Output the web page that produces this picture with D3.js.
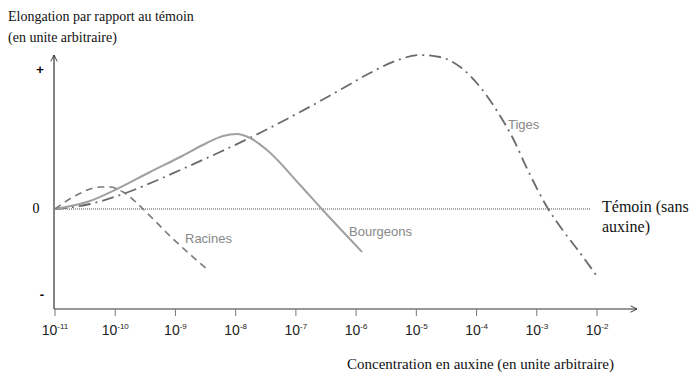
<!DOCTYPE html>
<html>
<head>
<meta charset="utf-8">
<script src="https://cdn.jsdelivr.net/npm/d3@7"></script>
<style>
  body { margin: 0; background: #fff; }
  svg { display: block; }
</style>
</head>
<body>
<svg id="chart"></svg>
<script>
const width = 700;
const height = 378;

// exponents of the concentration axis (10^x)
const tickExponents = [-11, -10, -9, -8, -7, -6, -5, -4, -3, -2];

// curves: [log10 concentration, elongation vs control (arbitrary units)]
const racines = [
    [-11, 0], [-10.64, 14], [-10.25, 22], [-10.09, 22], [-9.87, 17],
    [-9.64, 6], [-9.47, -4], [-9.09, -27], [-8.46, -61]
];
const bourgeons = [
    [-11, 0], [-10.42, 8], [-9.97, 20], [-9.42, 37], [-8.92, 52],
    [-8.48, 66], [-8.21, 73], [-7.98, 75], [-7.76, 71], [-7.48, 59],
    [-6.93, 24], [-6.57, 0], [-5.90, -43]
];
const tiges = [
    [-11, 0], [-10.42, 5], [-9.92, 14], [-9.37, 27], [-8.92, 39],
    [-8.26, 57], [-7.60, 76], [-6.93, 97], [-6.27, 119], [-5.77, 136],
    [-5.35, 148], [-4.94, 154], [-4.61, 152], [-4.27, 142], [-3.94, 122],
    [-3.66, 98], [-3.39, 70], [-3.15, 39], [-2.83, 2], [-2.56, -22],
    [-2.28, -44], [-1.98, -69]
];

const svg = d3.select("#chart").attr("width", width).attr("height", height);

const x = d3.scaleLog().domain([1e-11, 1e-2]).range([55, 597]);
const y = d3.scaleLinear().domain([-100, 154]).range([309, 55]);

const serif = "'Liberation Serif', 'Times New Roman', serif";
const sans = "'Liberation Sans', Arial, sans-serif";

// arrow marker
const defs = svg.append("defs");
defs.append("marker").attr("id", "arrow").attr("viewBox", "0 0 10 10")
    .attr("refX", 9).attr("refY", 5).attr("markerWidth", 8).attr("markerHeight", 8)
    .attr("orient", "auto-start-reverse").attr("markerUnits", "userSpaceOnUse")
    .append("path").attr("d", "M1,1 L9,5 L1,9").attr("fill", "none").attr("stroke", "#333").attr("stroke-width", 1.2);

// zero line (témoin)
svg.append("line").attr("x1", 55).attr("x2", 590).attr("y1", y(0)).attr("y2", y(0))
    .attr("stroke", "#555").attr("stroke-width", 1.2).attr("stroke-dasharray", "1,1");

// axes
svg.append("line").attr("x1", 54).attr("x2", 54).attr("y1", y(-100)).attr("y2", 55)
    .attr("stroke", "#333").attr("stroke-width", 1.2).attr("marker-end", "url(#arrow)");
svg.append("line").attr("x1", 54).attr("x2", 637).attr("y1", y(-100)).attr("y2", y(-100))
    .attr("stroke", "#333").attr("stroke-width", 1.2).attr("marker-end", "url(#arrow)");

// ticks
const ticks = svg.append("g").selectAll("g").data(tickExponents).enter().append("g")
    .attr("transform", d => `translate(${x(Math.pow(10, d))},${y(-100)})`);
ticks.append("line").attr("y1", 0).attr("y2", 7).attr("stroke", "#777").attr("stroke-width", 1);
const tl = ticks.append("text").attr("y", 26).attr("text-anchor", "middle")
    .style("font-family", sans).style("font-size", "14px").attr("fill", "#222");
tl.append("tspan").text("10");
tl.append("tspan").attr("dy", -6).style("font-size", "8px").text(d => d);

// y marks
svg.append("text").attr("x", 40).attr("y", 74).attr("text-anchor", "middle")
    .style("font-family", sans).style("font-size", "13px").style("font-weight", "bold").text("+");
svg.append("text").attr("x", 36).attr("y", 213).attr("text-anchor", "middle")
    .style("font-family", serif).style("font-size", "14px").text("0");
svg.append("text").attr("x", 42).attr("y", 299).attr("text-anchor", "middle")
    .style("font-family", sans).style("font-size", "13px").style("font-weight", "bold").text("-");

// curves
const line = d3.line().x(d => x(Math.pow(10, d[0]))).y(d => y(d[1])).curve(d3.curveMonotoneX);

svg.append("path").datum(tiges).attr("d", line).attr("fill", "none")
    .attr("stroke", "#6a6a6a").attr("stroke-width", 1.8).attr("stroke-dasharray", "12,5,2,5");
svg.append("path").datum(bourgeons).attr("d", line).attr("fill", "none")
    .attr("stroke", "#a0a0a0").attr("stroke-width", 2);
svg.append("path").datum(racines).attr("d", line).attr("fill", "none")
    .attr("stroke", "#7a7a7a").attr("stroke-width", 1.6).attr("stroke-dasharray", "7,5");

// curve labels
const curveLabels = [
    { text: "Racines", x: 185, y: 243 },
    { text: "Bourgeons", x: 349, y: 236 },
    { text: "Tiges", x: 508, y: 129 }
];
svg.selectAll(".clabel").data(curveLabels).enter().append("text").attr("class", "clabel")
    .attr("x", d => d.x).attr("y", d => d.y).text(d => d.text)
    .style("font-family", sans).style("font-size", "13px").attr("fill", "#888");

// titles
const titles = [
    { text: "Elongation par rapport au témoin", x: 8, y: 21, size: 14 },
    { text: "(en unite arbitraire)", x: 8, y: 42, size: 14 },
    { text: "Témoin (sans", x: 602, y: 212, size: 16 },
    { text: "auxine)", x: 602, y: 232, size: 16 },
    { text: "Concentration en auxine (en unite arbitraire)", x: 347, y: 369, size: 15 }
];
svg.selectAll(".title").data(titles).enter().append("text").attr("class", "title")
    .attr("x", d => d.x).attr("y", d => d.y).text(d => d.text)
    .style("font-family", serif).style("font-size", d => d.size + "px").attr("fill", "#111");
</script>
</body>
</html>
